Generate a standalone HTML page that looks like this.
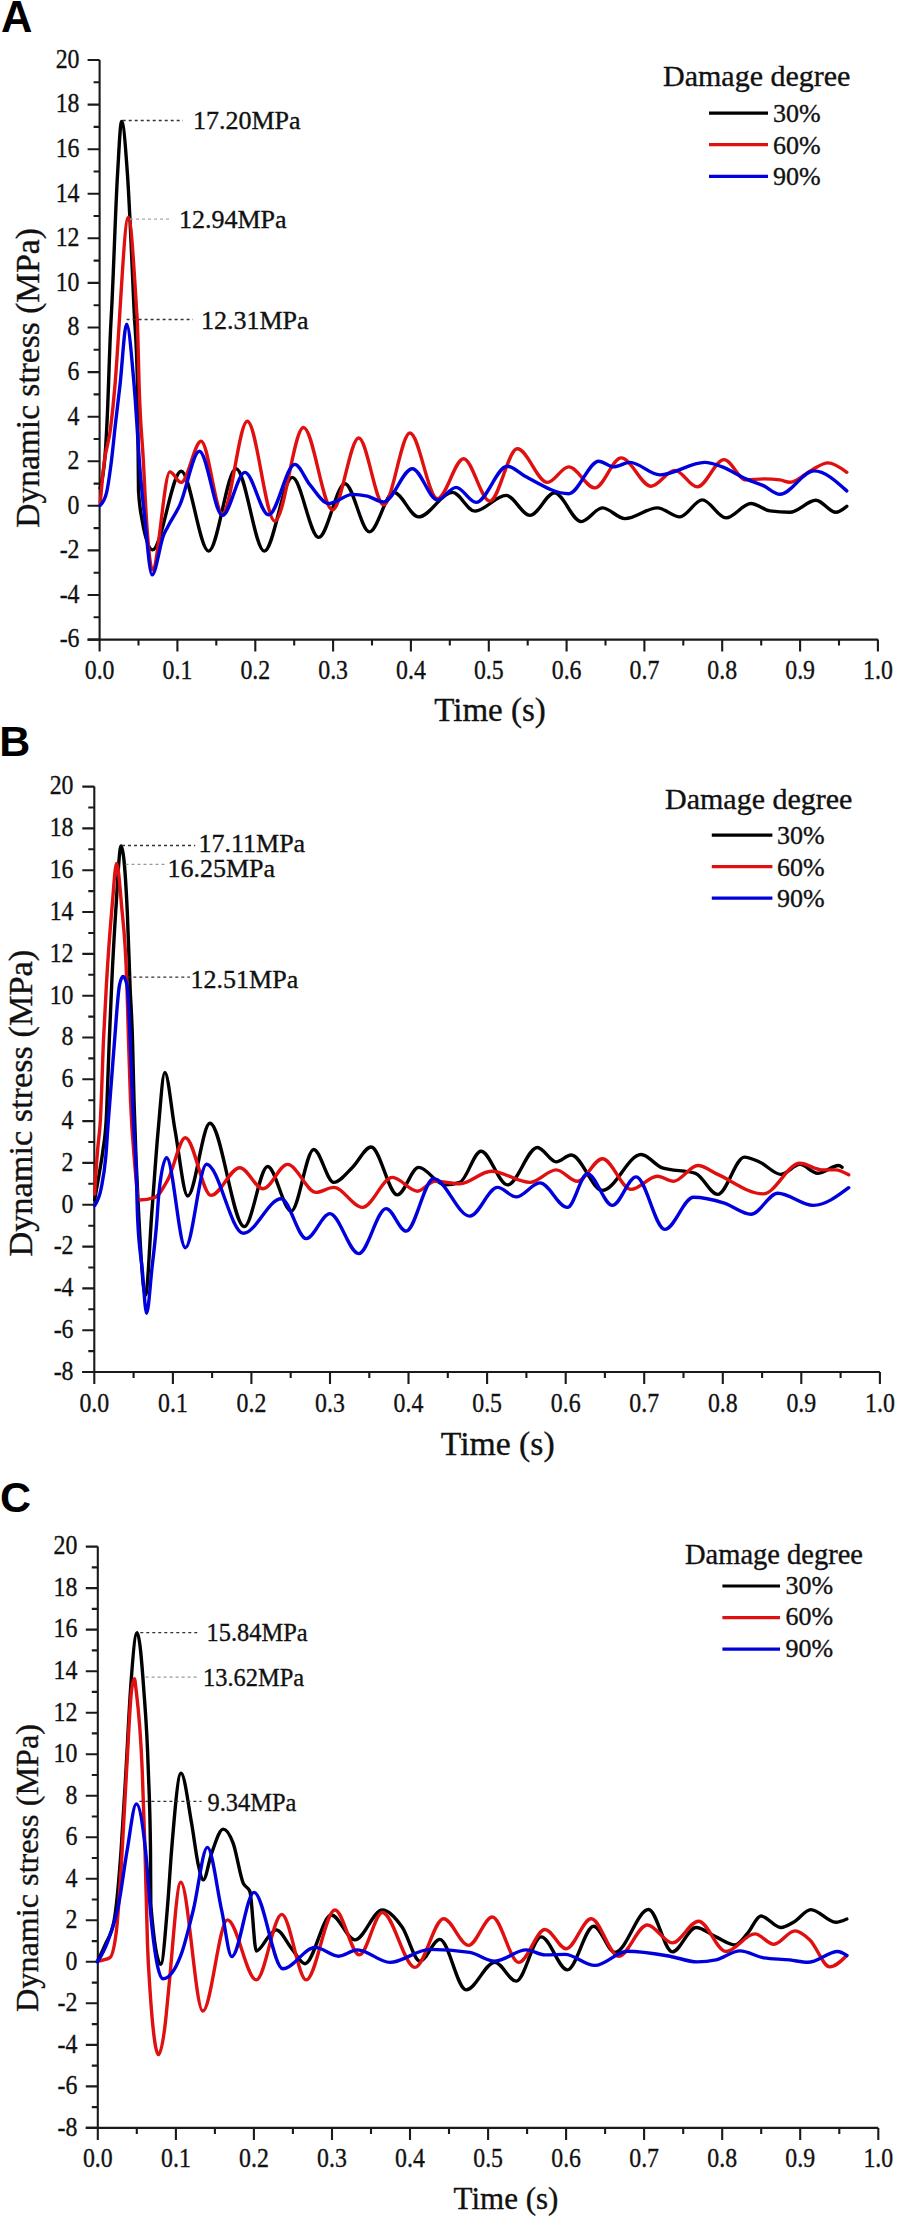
<!DOCTYPE html>
<html><head><meta charset="utf-8"><style>
html,body{margin:0;padding:0;background:#fff;}
svg{display:block;}
text{font-family:"Liberation Serif",serif;fill:#111;stroke:#111;stroke-width:0.35px;}
.let{font-family:"Liberation Sans",sans-serif;font-weight:bold;fill:#000;stroke:none;}
</style></head><body>
<svg width="901" height="2219" viewBox="0 0 901 2219">
<rect width="901" height="2219" fill="#fff"/>
<path d="M99.6,60.0 V639.6 M87.6,639.6 H877.9" fill="none" stroke="#1a1a1a" stroke-width="2.1"/>
<path d="M87.6,639.6 H99.6 M93.6,617.3 H99.6 M87.6,595.0 H99.6 M93.6,572.7 H99.6 M87.6,550.4 H99.6 M93.6,528.1 H99.6 M87.6,505.8 H99.6 M93.6,483.6 H99.6 M87.6,461.3 H99.6 M93.6,439.0 H99.6 M87.6,416.7 H99.6 M93.6,394.4 H99.6 M87.6,372.1 H99.6 M93.6,349.8 H99.6 M87.6,327.5 H99.6 M93.6,305.2 H99.6 M87.6,282.9 H99.6 M93.6,260.6 H99.6 M87.6,238.3 H99.6 M93.6,216.0 H99.6 M87.6,193.8 H99.6 M93.6,171.5 H99.6 M87.6,149.2 H99.6 M93.6,126.9 H99.6 M87.6,104.6 H99.6 M93.6,82.3 H99.6 M87.6,60.0 H99.6 M99.6,639.6 V651.6 M138.5,639.6 V645.6 M177.4,639.6 V651.6 M216.3,639.6 V645.6 M255.3,639.6 V651.6 M294.2,639.6 V645.6 M333.1,639.6 V651.6 M372.0,639.6 V645.6 M410.9,639.6 V651.6 M449.8,639.6 V645.6 M488.8,639.6 V651.6 M527.7,639.6 V645.6 M566.6,639.6 V651.6 M605.5,639.6 V645.6 M644.4,639.6 V651.6 M683.3,639.6 V645.6 M722.2,639.6 V651.6 M761.2,639.6 V645.6 M800.1,639.6 V651.6 M839.0,639.6 V645.6 M877.9,639.6 V651.6" fill="none" stroke="#1a1a1a" stroke-width="2.1"/>
<text transform="translate(79.5,647.4) scale(0.9,1)" text-anchor="end" font-size="26.5">-6</text>
<text transform="translate(79.5,602.8) scale(0.9,1)" text-anchor="end" font-size="26.5">-4</text>
<text transform="translate(79.5,558.2) scale(0.9,1)" text-anchor="end" font-size="26.5">-2</text>
<text transform="translate(79.5,513.6) scale(0.9,1)" text-anchor="end" font-size="26.5">0</text>
<text transform="translate(79.5,469.1) scale(0.9,1)" text-anchor="end" font-size="26.5">2</text>
<text transform="translate(79.5,424.5) scale(0.9,1)" text-anchor="end" font-size="26.5">4</text>
<text transform="translate(79.5,379.9) scale(0.9,1)" text-anchor="end" font-size="26.5">6</text>
<text transform="translate(79.5,335.3) scale(0.9,1)" text-anchor="end" font-size="26.5">8</text>
<text transform="translate(79.5,290.7) scale(0.9,1)" text-anchor="end" font-size="26.5">10</text>
<text transform="translate(79.5,246.1) scale(0.9,1)" text-anchor="end" font-size="26.5">12</text>
<text transform="translate(79.5,201.6) scale(0.9,1)" text-anchor="end" font-size="26.5">14</text>
<text transform="translate(79.5,157.0) scale(0.9,1)" text-anchor="end" font-size="26.5">16</text>
<text transform="translate(79.5,112.4) scale(0.9,1)" text-anchor="end" font-size="26.5">18</text>
<text transform="translate(79.5,67.8) scale(0.9,1)" text-anchor="end" font-size="26.5">20</text>
<text transform="translate(99.6,678.5) scale(0.9,1)" text-anchor="middle" font-size="26.5">0.0</text>
<text transform="translate(177.4,678.5) scale(0.9,1)" text-anchor="middle" font-size="26.5">0.1</text>
<text transform="translate(255.3,678.5) scale(0.9,1)" text-anchor="middle" font-size="26.5">0.2</text>
<text transform="translate(333.1,678.5) scale(0.9,1)" text-anchor="middle" font-size="26.5">0.3</text>
<text transform="translate(410.9,678.5) scale(0.9,1)" text-anchor="middle" font-size="26.5">0.4</text>
<text transform="translate(488.8,678.5) scale(0.9,1)" text-anchor="middle" font-size="26.5">0.5</text>
<text transform="translate(566.6,678.5) scale(0.9,1)" text-anchor="middle" font-size="26.5">0.6</text>
<text transform="translate(644.4,678.5) scale(0.9,1)" text-anchor="middle" font-size="26.5">0.7</text>
<text transform="translate(722.2,678.5) scale(0.9,1)" text-anchor="middle" font-size="26.5">0.8</text>
<text transform="translate(800.1,678.5) scale(0.9,1)" text-anchor="middle" font-size="26.5">0.9</text>
<text transform="translate(877.9,678.5) scale(0.9,1)" text-anchor="middle" font-size="26.5">1.0</text>
<text x="490.0" y="721.0" text-anchor="middle" font-size="33">Time (s)</text>
<text transform="translate(38.9,378.0) rotate(-90)" text-anchor="middle" font-size="33.5">Dynamic stress (MPa)</text>
<text x="1.0" y="32.2" class="let" font-size="43.5">A</text>
<text x="663.0" y="85.5" font-size="30">Damage degree</text>
<path d="M709.0,113.1 H768.0" stroke="#000" stroke-width="3.2"/>
<text x="773.0" y="122.1" font-size="26">30%</text>
<path d="M709.0,144.7 H768.0" stroke="#e01010" stroke-width="3.2"/>
<text x="773.0" y="153.7" font-size="26">60%</text>
<path d="M709.0,176.3 H768.0" stroke="#0000dd" stroke-width="3.2"/>
<text x="773.0" y="185.3" font-size="26">90%</text>
<path d="M100.0,488.0 C100.6,486.4 101.1,484.9 101.7,482.0 C103.0,475.2 104.4,468.0 105.7,446.6 C106.1,439.6 106.6,431.5 107.0,422.7 C108.3,397.0 109.5,350.3 110.8,325.0 C111.1,319.7 111.3,315.1 111.6,310.0 C113.6,272.2 115.5,208.6 117.5,175.0 C118.9,151.7 120.2,121.5 121.6,121.5 C123.6,121.5 125.5,146.6 127.5,175.0 C129.7,206.8 131.9,262.7 134.1,310.0 C135.2,334.4 136.4,335.0 137.5,385.0 C137.8,399.7 138.2,485.6 138.5,491.0 C139.7,510.3 140.9,513.0 142.1,520.0 C145.5,539.9 149.0,549.9 152.4,549.9 C162.0,549.9 171.6,471.2 181.2,471.2 C190.3,471.2 199.5,551.1 208.6,551.1 C217.8,551.1 226.9,468.7 236.1,468.7 C245.5,468.7 254.9,551.1 264.3,551.1 C273.6,551.1 283.0,477.4 292.3,477.4 C301.1,477.4 309.9,537.4 318.7,537.4 C327.5,537.4 336.2,483.7 345.0,483.7 C353.1,483.7 361.3,531.9 369.4,531.9 C377.5,531.9 385.6,492.4 393.7,492.4 C402.0,492.4 410.3,516.9 418.6,516.9 C429.9,516.9 441.1,492.4 452.4,492.4 C459.9,492.4 467.3,511.1 474.8,511.1 C485.2,511.1 495.7,495.4 506.1,495.4 C514.1,495.4 522.0,515.4 530.0,515.4 C538.2,515.4 546.3,492.9 554.5,492.9 C563.4,492.9 572.3,521.6 581.2,521.6 C588.3,521.6 595.3,507.9 602.4,507.9 C609.9,507.9 617.4,518.6 624.9,518.6 C635.7,518.6 646.6,507.9 657.4,507.9 C664.9,507.9 672.3,516.9 679.8,516.9 C687.3,516.9 694.8,499.9 702.3,499.9 C710.2,499.9 718.1,517.9 726.0,517.9 C734.3,517.9 742.6,503.5 750.9,503.5 C757.2,503.5 763.6,510.0 769.9,510.9 C776.6,511.8 783.2,512.3 789.9,512.3 C798.6,512.3 807.2,500.3 815.9,500.3 C822.5,500.3 829.2,512.3 835.8,512.3 C839.5,512.3 843.1,509.3 846.8,506.3" fill="none" stroke="#000" stroke-width="3.4" stroke-linejoin="round" stroke-linecap="round"/>
<path d="M100.3,502.6 C101.5,488.8 102.7,474.9 103.9,464.4 C106.1,445.1 108.3,446.5 110.5,428.9 C112.0,416.9 113.5,403.5 115.0,385.0 C116.4,368.2 117.7,347.3 119.1,325.0 C119.4,320.1 119.7,314.8 120.0,310.0 C122.8,265.4 125.5,217.5 128.3,217.5 C131.1,217.5 133.8,265.4 136.6,310.0 C136.9,314.8 137.2,317.7 137.5,325.0 C138.0,337.9 138.6,367.9 139.1,385.0 C140.5,429.9 141.9,434.3 143.3,460.0 C144.4,479.6 145.4,503.9 146.5,520.0 C148.5,549.7 150.4,569.8 152.4,569.8 C158.2,569.8 164.1,471.9 169.9,471.9 C173.7,471.9 177.4,482.4 181.2,482.4 C187.8,482.4 194.5,441.2 201.1,441.2 C208.2,441.2 215.3,513.6 222.4,513.6 C230.7,513.6 239.0,421.2 247.3,421.2 C256.5,421.2 265.6,521.1 274.8,521.1 C284.4,521.1 293.9,427.5 303.5,427.5 C313.2,427.5 322.8,509.9 332.5,509.9 C341.2,509.9 350.0,438.0 358.7,438.0 C367.0,438.0 375.4,504.9 383.7,504.9 C392.4,504.9 401.2,433.0 409.9,433.0 C419.1,433.0 428.2,498.7 437.4,498.7 C446.1,498.7 454.9,458.7 463.6,458.7 C472.3,458.7 481.1,501.1 489.8,501.1 C499.0,501.1 508.1,448.7 517.3,448.7 C527.4,448.7 537.4,482.4 547.5,482.4 C554.6,482.4 561.6,466.9 568.7,466.9 C577.4,466.9 586.2,487.9 594.9,487.9 C603.7,487.9 612.4,457.9 621.2,457.9 C631.2,457.9 641.1,486.2 651.1,486.2 C659.0,486.2 667.0,470.4 674.9,470.4 C682.4,470.4 689.8,486.9 697.3,486.9 C706.2,486.9 715.1,459.6 724.0,459.6 C731.3,459.6 738.6,479.9 745.9,479.9 C751.9,479.9 757.9,478.9 763.9,478.9 C769.2,478.9 774.6,479.2 779.9,479.9 C783.2,480.3 786.6,482.3 789.9,482.3 C797.2,482.3 804.6,473.5 811.9,469.9 C817.2,467.3 822.5,462.9 827.8,462.9 C834.1,462.9 840.5,467.6 846.8,472.3" fill="none" stroke="#e01010" stroke-width="3.4" stroke-linejoin="round" stroke-linecap="round"/>
<path d="M100.3,505.3 C102.4,503.2 104.4,501.1 106.5,492.8 C108.0,486.8 109.5,476.0 111.0,464.4 C112.5,453.1 113.9,437.4 115.4,424.4 C116.9,410.9 118.5,398.5 120.0,385.0 C122.2,365.6 124.4,324.2 126.6,324.2 C129.1,324.2 131.6,356.3 134.1,385.0 C136.2,408.7 138.2,448.9 140.3,473.3 C141.8,490.6 143.2,504.2 144.7,517.7 C147.1,540.2 149.6,574.8 152.0,574.8 C155.9,574.8 159.8,544.1 163.7,534.9 C164.9,532.0 166.2,529.8 167.4,527.4 C171.6,519.2 175.7,514.0 179.9,504.9 C186.4,490.8 192.9,451.2 199.4,451.2 C207.1,451.2 214.7,515.4 222.4,515.4 C229.9,515.4 237.4,472.4 244.9,472.4 C252.8,472.4 260.7,514.9 268.6,514.9 C277.3,514.9 286.1,464.4 294.8,464.4 C299.9,464.4 304.9,478.9 310.0,484.9 C316.2,492.3 322.5,503.6 328.7,503.6 C336.6,503.6 344.6,494.4 352.5,494.4 C357.5,494.4 362.4,495.1 367.4,496.2 C372.8,497.5 378.3,501.9 383.7,501.9 C393.3,501.9 402.8,468.7 412.4,468.7 C420.7,468.7 429.1,499.9 437.4,499.9 C443.6,499.9 449.9,487.4 456.1,487.4 C462.8,487.4 469.4,502.4 476.1,502.4 C486.5,502.4 496.9,466.2 507.3,466.2 C513.2,466.2 519.1,473.1 525.0,476.2 C539.6,483.7 554.1,493.7 568.7,493.7 C578.7,493.7 588.7,461.2 598.7,461.2 C603.7,461.2 608.7,466.9 613.7,466.9 C619.1,466.9 624.5,462.4 629.9,462.4 C639.9,462.4 649.9,474.9 659.9,474.9 C674.9,474.9 689.8,462.4 704.8,462.4 C710.6,462.4 716.5,464.8 722.3,466.9 C730.2,469.8 738.0,475.4 745.9,478.9 C751.9,481.5 757.9,483.1 763.9,485.9 C769.2,488.4 774.6,494.3 779.9,494.3 C791.2,494.3 802.6,470.9 813.9,470.9 C824.9,470.9 835.8,480.9 846.8,490.9" fill="none" stroke="#0000dd" stroke-width="3.4" stroke-linejoin="round" stroke-linecap="round"/>
<path d="M122.7,120.5 H183.0" stroke="#333" stroke-width="1.3" stroke-dasharray="3,3"/>
<text transform="translate(193.0,129.0) scale(1,1)" font-size="26">17.20MPa</text>
<path d="M130.0,219.1 H171.0" stroke="#aaa" stroke-width="1.3" stroke-dasharray="3,3"/>
<text transform="translate(179.0,228.3) scale(1,1)" font-size="26">12.94MPa</text>
<path d="M126.6,319.5 H193.0" stroke="#333" stroke-width="1.3" stroke-dasharray="3,3"/>
<text transform="translate(201.0,329.0) scale(1,1)" font-size="26">12.31MPa</text>
<path d="M94.3,786.6 V1372.0 M82.3,1372.0 H879.9" fill="none" stroke="#1a1a1a" stroke-width="2.1"/>
<path d="M82.3,1372.0 H94.3 M88.3,1351.1 H94.3 M82.3,1330.2 H94.3 M88.3,1309.3 H94.3 M82.3,1288.4 H94.3 M88.3,1267.5 H94.3 M82.3,1246.6 H94.3 M88.3,1225.7 H94.3 M82.3,1204.7 H94.3 M88.3,1183.8 H94.3 M82.3,1162.9 H94.3 M88.3,1142.0 H94.3 M82.3,1121.1 H94.3 M88.3,1100.2 H94.3 M82.3,1079.3 H94.3 M88.3,1058.4 H94.3 M82.3,1037.5 H94.3 M88.3,1016.6 H94.3 M82.3,995.7 H94.3 M88.3,974.8 H94.3 M82.3,953.9 H94.3 M88.3,933.0 H94.3 M82.3,912.0 H94.3 M88.3,891.1 H94.3 M82.3,870.2 H94.3 M88.3,849.3 H94.3 M82.3,828.4 H94.3 M88.3,807.5 H94.3 M82.3,786.6 H94.3 M94.3,1372.0 V1384.0 M133.6,1372.0 V1378.0 M172.9,1372.0 V1384.0 M212.1,1372.0 V1378.0 M251.4,1372.0 V1384.0 M290.7,1372.0 V1378.0 M330.0,1372.0 V1384.0 M369.3,1372.0 V1378.0 M408.5,1372.0 V1384.0 M447.8,1372.0 V1378.0 M487.1,1372.0 V1384.0 M526.4,1372.0 V1378.0 M565.7,1372.0 V1384.0 M604.9,1372.0 V1378.0 M644.2,1372.0 V1384.0 M683.5,1372.0 V1378.0 M722.8,1372.0 V1384.0 M762.1,1372.0 V1378.0 M801.3,1372.0 V1384.0 M840.6,1372.0 V1378.0 M879.9,1372.0 V1384.0" fill="none" stroke="#1a1a1a" stroke-width="2.1"/>
<text transform="translate(73.5,1379.8) scale(0.9,1)" text-anchor="end" font-size="26.5">-8</text>
<text transform="translate(73.5,1338.0) scale(0.9,1)" text-anchor="end" font-size="26.5">-6</text>
<text transform="translate(73.5,1296.2) scale(0.9,1)" text-anchor="end" font-size="26.5">-4</text>
<text transform="translate(73.5,1254.4) scale(0.9,1)" text-anchor="end" font-size="26.5">-2</text>
<text transform="translate(73.5,1212.5) scale(0.9,1)" text-anchor="end" font-size="26.5">0</text>
<text transform="translate(73.5,1170.7) scale(0.9,1)" text-anchor="end" font-size="26.5">2</text>
<text transform="translate(73.5,1128.9) scale(0.9,1)" text-anchor="end" font-size="26.5">4</text>
<text transform="translate(73.5,1087.1) scale(0.9,1)" text-anchor="end" font-size="26.5">6</text>
<text transform="translate(73.5,1045.3) scale(0.9,1)" text-anchor="end" font-size="26.5">8</text>
<text transform="translate(73.5,1003.5) scale(0.9,1)" text-anchor="end" font-size="26.5">10</text>
<text transform="translate(73.5,961.7) scale(0.9,1)" text-anchor="end" font-size="26.5">12</text>
<text transform="translate(73.5,919.8) scale(0.9,1)" text-anchor="end" font-size="26.5">14</text>
<text transform="translate(73.5,878.0) scale(0.9,1)" text-anchor="end" font-size="26.5">16</text>
<text transform="translate(73.5,836.2) scale(0.9,1)" text-anchor="end" font-size="26.5">18</text>
<text transform="translate(73.5,794.4) scale(0.9,1)" text-anchor="end" font-size="26.5">20</text>
<text transform="translate(94.3,1412.0) scale(0.9,1)" text-anchor="middle" font-size="26.5">0.0</text>
<text transform="translate(172.9,1412.0) scale(0.9,1)" text-anchor="middle" font-size="26.5">0.1</text>
<text transform="translate(251.4,1412.0) scale(0.9,1)" text-anchor="middle" font-size="26.5">0.2</text>
<text transform="translate(330.0,1412.0) scale(0.9,1)" text-anchor="middle" font-size="26.5">0.3</text>
<text transform="translate(408.5,1412.0) scale(0.9,1)" text-anchor="middle" font-size="26.5">0.4</text>
<text transform="translate(487.1,1412.0) scale(0.9,1)" text-anchor="middle" font-size="26.5">0.5</text>
<text transform="translate(565.7,1412.0) scale(0.9,1)" text-anchor="middle" font-size="26.5">0.6</text>
<text transform="translate(644.2,1412.0) scale(0.9,1)" text-anchor="middle" font-size="26.5">0.7</text>
<text transform="translate(722.8,1412.0) scale(0.9,1)" text-anchor="middle" font-size="26.5">0.8</text>
<text transform="translate(801.3,1412.0) scale(0.9,1)" text-anchor="middle" font-size="26.5">0.9</text>
<text transform="translate(879.9,1412.0) scale(0.9,1)" text-anchor="middle" font-size="26.5">1.0</text>
<text x="497.7" y="1455.4" text-anchor="middle" font-size="33.7">Time (s)</text>
<text transform="translate(32.3,1103.2) rotate(-90)" text-anchor="middle" font-size="34.3">Dynamic stress (MPa)</text>
<text x="-0.8" y="756.2" class="let" font-size="43">B</text>
<text x="665.0" y="808.9" font-size="30">Damage degree</text>
<path d="M711.8,835.1 H772.4" stroke="#000" stroke-width="3.2"/>
<text x="777.0" y="844.1" font-size="26">30%</text>
<path d="M711.8,866.6 H772.4" stroke="#e01010" stroke-width="3.2"/>
<text x="777.0" y="875.6" font-size="26">60%</text>
<path d="M711.8,898.1 H772.4" stroke="#0000dd" stroke-width="3.2"/>
<text x="777.0" y="907.1" font-size="26">90%</text>
<path d="M94.6,1200.0 C96.1,1191.9 97.5,1183.8 99.0,1175.0 C100.3,1167.0 101.7,1160.6 103.0,1150.0 C104.1,1141.5 105.1,1138.9 106.2,1120.0 C107.2,1101.7 108.3,1065.2 109.3,1040.0 C110.1,1019.7 111.0,999.7 111.8,982.0 C113.1,953.7 114.5,930.6 115.8,910.0 C117.6,882.7 119.3,846.0 121.1,846.0 C123.2,846.0 125.2,868.0 127.3,912.0 C128.2,931.2 129.1,963.0 130.0,985.0 C130.8,1005.4 131.7,1012.3 132.5,1040.0 C133.0,1056.6 133.5,1081.8 134.0,1100.0 C135.7,1160.5 137.3,1189.0 139.0,1220.0 C141.2,1260.3 143.3,1295.4 145.5,1295.4 C147.7,1295.4 149.8,1238.2 152.0,1210.0 C154.1,1183.1 156.1,1152.5 158.2,1130.0 C160.4,1106.1 162.6,1072.5 164.8,1072.5 C168.2,1072.5 171.6,1111.5 175.0,1130.0 C179.2,1153.0 183.5,1196.0 187.7,1196.0 C195.1,1196.0 202.5,1123.3 209.9,1123.3 C221.4,1123.3 232.8,1226.6 244.3,1226.6 C252.1,1226.6 259.8,1166.5 267.6,1166.5 C275.5,1166.5 283.3,1211.1 291.2,1211.1 C298.7,1211.1 306.2,1149.5 313.7,1149.5 C320.4,1149.5 327.0,1182.4 333.7,1182.4 C339.9,1182.4 346.2,1173.3 352.4,1167.4 C358.6,1161.5 364.9,1147.0 371.1,1147.0 C379.9,1147.0 388.6,1194.9 397.4,1194.9 C404.5,1194.9 411.5,1167.4 418.6,1167.4 C427.3,1167.4 436.1,1184.9 444.8,1184.9 C449.8,1184.9 454.8,1184.1 459.8,1182.4 C466.9,1180.0 473.9,1151.2 481.0,1151.2 C489.8,1151.2 498.7,1184.9 507.5,1184.9 C517.5,1184.9 527.4,1147.5 537.4,1147.5 C543.7,1147.5 549.9,1161.9 556.2,1161.9 C561.2,1161.9 566.2,1155.0 571.2,1155.0 C581.6,1155.0 592.0,1190.4 602.4,1190.4 C615.3,1190.4 628.2,1154.5 641.1,1154.5 C648.2,1154.5 655.2,1165.6 662.3,1167.9 C673.4,1171.5 684.4,1169.7 695.5,1173.3 C702.9,1175.7 710.3,1194.4 717.7,1194.4 C726.6,1194.4 735.5,1157.1 744.4,1157.1 C749.6,1157.1 754.7,1160.0 759.9,1162.2 C766.9,1165.3 774.0,1174.4 781.0,1174.4 C787.3,1174.4 793.6,1164.4 799.9,1164.4 C805.8,1164.4 811.7,1173.3 817.6,1173.3 C824.6,1173.3 831.7,1165.5 838.7,1165.5 C839.8,1165.5 840.9,1166.4 842.0,1167.3" fill="none" stroke="#000" stroke-width="3.4" stroke-linejoin="round" stroke-linecap="round"/>
<path d="M94.7,1194.0 C95.1,1187.2 95.4,1180.3 95.8,1174.4 C96.5,1163.6 97.1,1155.9 97.8,1147.8 C98.7,1137.3 99.5,1135.2 100.4,1120.0 C101.4,1101.8 102.5,1063.0 103.5,1040.0 C104.5,1018.5 105.4,1001.7 106.4,985.0 C108.3,951.7 110.3,926.9 112.2,905.0 C113.7,888.4 115.1,863.5 116.6,863.5 C118.2,863.5 119.9,886.2 121.5,905.0 C123.3,925.7 125.1,931.7 126.9,985.0 C127.4,1000.8 128.0,1022.7 128.5,1040.0 C129.2,1061.6 129.8,1083.3 130.5,1100.0 C131.8,1132.6 133.1,1144.2 134.4,1160.0 C136.1,1180.6 137.8,1200.0 139.5,1200.0 C144.5,1200.0 149.5,1199.2 154.5,1197.5 C159.0,1196.0 163.4,1187.7 167.9,1179.7 C173.7,1169.2 179.6,1137.7 185.4,1137.7 C193.9,1137.7 202.5,1195.4 211.0,1195.4 C220.6,1195.4 230.2,1167.7 239.8,1167.7 C247.6,1167.7 255.3,1188.8 263.1,1188.8 C271.2,1188.8 279.4,1164.4 287.5,1164.4 C297.1,1164.4 306.6,1192.4 316.2,1192.4 C322.0,1192.4 327.9,1187.4 333.7,1187.4 C343.3,1187.4 352.8,1207.4 362.4,1207.4 C372.4,1207.4 382.4,1177.4 392.4,1177.4 C400.7,1177.4 409.1,1191.2 417.4,1191.2 C423.2,1191.2 429.0,1181.2 434.8,1181.2 C443.1,1181.2 451.5,1183.7 459.8,1183.7 C470.3,1183.7 480.7,1171.2 491.2,1171.2 C504.1,1171.2 517.1,1182.4 530.0,1182.4 C538.7,1182.4 547.5,1169.9 556.2,1169.9 C563.3,1169.9 570.3,1181.2 577.4,1181.2 C585.7,1181.2 594.1,1158.7 602.4,1158.7 C612.0,1158.7 621.5,1189.4 631.1,1189.4 C639.8,1189.4 648.6,1176.2 657.3,1176.2 C662.7,1176.2 668.2,1181.2 673.6,1181.2 C681.7,1181.2 689.7,1165.5 697.8,1165.5 C704.4,1165.5 711.1,1171.5 717.7,1174.4 C732.9,1181.1 748.0,1193.9 763.2,1193.9 C775.4,1193.9 787.7,1163.3 799.9,1163.3 C807.3,1163.3 814.7,1169.9 822.1,1169.9 C826.5,1169.9 831.0,1169.9 835.4,1169.9 C839.8,1169.9 844.3,1172.3 848.7,1174.8" fill="none" stroke="#e01010" stroke-width="3.4" stroke-linejoin="round" stroke-linecap="round"/>
<path d="M94.7,1205.5 C96.9,1202.3 99.1,1199.1 101.3,1187.7 C102.8,1179.9 104.3,1173.8 105.8,1156.6 C106.7,1146.7 107.5,1131.9 108.4,1120.0 C110.5,1091.6 112.5,1064.7 114.6,1040.0 C116.2,1020.5 117.9,992.9 119.5,985.0 C120.7,979.3 121.8,976.5 123.0,976.5 C124.3,976.5 125.7,979.3 127.0,985.0 C128.1,989.5 129.1,1017.0 130.2,1040.0 C131.2,1062.3 132.3,1098.3 133.3,1120.0 C134.2,1138.9 135.1,1141.9 136.0,1165.5 C136.6,1180.3 137.1,1207.7 137.7,1220.0 C139.2,1252.5 140.7,1253.1 142.2,1268.8 C143.7,1284.1 145.1,1313.2 146.6,1313.2 C148.4,1313.2 150.2,1284.2 152.0,1268.0 C153.5,1254.2 155.1,1242.5 156.6,1224.0 C157.4,1214.4 158.2,1199.2 159.0,1192.0 C161.5,1169.1 164.1,1157.7 166.6,1157.7 C172.9,1157.7 179.1,1247.7 185.4,1247.7 C192.4,1247.7 199.5,1164.3 206.5,1164.3 C218.7,1164.3 231.0,1233.3 243.2,1233.3 C255.9,1233.3 268.5,1198.7 281.2,1198.7 C289.5,1198.7 297.9,1238.6 306.2,1238.6 C314.1,1238.6 322.0,1213.6 329.9,1213.6 C339.5,1213.6 349.1,1253.6 358.7,1253.6 C367.8,1253.6 377.0,1208.6 386.1,1208.6 C392.8,1208.6 399.4,1231.1 406.1,1231.1 C415.3,1231.1 424.4,1178.7 433.6,1178.7 C445.7,1178.7 457.7,1216.1 469.8,1216.1 C479.0,1216.1 488.3,1187.4 497.5,1187.4 C503.7,1187.4 510.0,1196.9 516.2,1196.9 C524.1,1196.9 532.0,1182.9 539.9,1182.9 C549.1,1182.9 558.2,1207.4 567.4,1207.4 C574.1,1207.4 580.7,1173.7 587.4,1173.7 C595.7,1173.7 604.1,1205.4 612.4,1205.4 C620.3,1205.4 628.2,1176.9 636.1,1176.9 C645.7,1176.9 655.2,1229.4 664.8,1229.4 C674.3,1229.4 683.9,1197.3 693.4,1197.3 C703.7,1197.3 714.1,1200.0 724.4,1203.2 C733.3,1206.0 742.1,1214.3 751.0,1214.3 C759.9,1214.3 768.8,1193.2 777.7,1193.2 C789.5,1193.2 801.4,1205.4 813.2,1205.4 C825.0,1205.4 836.9,1196.6 848.7,1187.7" fill="none" stroke="#0000dd" stroke-width="3.4" stroke-linejoin="round" stroke-linecap="round"/>
<path d="M122.0,845.5 H195.2" stroke="#333" stroke-width="1.3" stroke-dasharray="3,3"/>
<text transform="translate(198.5,852.0) scale(1,1)" font-size="26">17.11MPa</text>
<path d="M125.5,864.3 H167.3" stroke="#999" stroke-width="1.3" stroke-dasharray="3,3"/>
<text transform="translate(167.5,877.3) scale(1,1)" font-size="26">16.25MPa</text>
<path d="M127.3,977.2 H189.9" stroke="#333" stroke-width="1.3" stroke-dasharray="3,3"/>
<text transform="translate(190.6,987.8) scale(1,1)" font-size="26">12.51MPa</text>
<path d="M97.8,1546.6 V2127.9 M85.8,2127.9 H878.3" fill="none" stroke="#1a1a1a" stroke-width="2.1"/>
<path d="M85.8,2127.9 H97.8 M91.8,2107.1 H97.8 M85.8,2086.4 H97.8 M91.8,2065.6 H97.8 M85.8,2044.9 H97.8 M91.8,2024.1 H97.8 M85.8,2003.3 H97.8 M91.8,1982.6 H97.8 M85.8,1961.8 H97.8 M91.8,1941.1 H97.8 M85.8,1920.3 H97.8 M91.8,1899.5 H97.8 M85.8,1878.8 H97.8 M91.8,1858.0 H97.8 M85.8,1837.2 H97.8 M91.8,1816.5 H97.8 M85.8,1795.7 H97.8 M91.8,1775.0 H97.8 M85.8,1754.2 H97.8 M91.8,1733.4 H97.8 M85.8,1712.7 H97.8 M91.8,1691.9 H97.8 M85.8,1671.2 H97.8 M91.8,1650.4 H97.8 M85.8,1629.6 H97.8 M91.8,1608.9 H97.8 M85.8,1588.1 H97.8 M91.8,1567.4 H97.8 M85.8,1546.6 H97.8 M97.8,2127.9 V2139.9 M136.8,2127.9 V2133.9 M175.9,2127.9 V2139.9 M214.9,2127.9 V2133.9 M253.9,2127.9 V2139.9 M292.9,2127.9 V2133.9 M332.0,2127.9 V2139.9 M371.0,2127.9 V2133.9 M410.0,2127.9 V2139.9 M449.0,2127.9 V2133.9 M488.1,2127.9 V2139.9 M527.1,2127.9 V2133.9 M566.1,2127.9 V2139.9 M605.1,2127.9 V2133.9 M644.1,2127.9 V2139.9 M683.2,2127.9 V2133.9 M722.2,2127.9 V2139.9 M761.2,2127.9 V2133.9 M800.2,2127.9 V2139.9 M839.3,2127.9 V2133.9 M878.3,2127.9 V2139.9" fill="none" stroke="#1a1a1a" stroke-width="2.1"/>
<text transform="translate(77.3,2135.7) scale(0.9,1)" text-anchor="end" font-size="26.5">-8</text>
<text transform="translate(77.3,2094.2) scale(0.9,1)" text-anchor="end" font-size="26.5">-6</text>
<text transform="translate(77.3,2052.7) scale(0.9,1)" text-anchor="end" font-size="26.5">-4</text>
<text transform="translate(77.3,2011.1) scale(0.9,1)" text-anchor="end" font-size="26.5">-2</text>
<text transform="translate(77.3,1969.6) scale(0.9,1)" text-anchor="end" font-size="26.5">0</text>
<text transform="translate(77.3,1928.1) scale(0.9,1)" text-anchor="end" font-size="26.5">2</text>
<text transform="translate(77.3,1886.6) scale(0.9,1)" text-anchor="end" font-size="26.5">4</text>
<text transform="translate(77.3,1845.0) scale(0.9,1)" text-anchor="end" font-size="26.5">6</text>
<text transform="translate(77.3,1803.5) scale(0.9,1)" text-anchor="end" font-size="26.5">8</text>
<text transform="translate(77.3,1762.0) scale(0.9,1)" text-anchor="end" font-size="26.5">10</text>
<text transform="translate(77.3,1720.5) scale(0.9,1)" text-anchor="end" font-size="26.5">12</text>
<text transform="translate(77.3,1679.0) scale(0.9,1)" text-anchor="end" font-size="26.5">14</text>
<text transform="translate(77.3,1637.4) scale(0.9,1)" text-anchor="end" font-size="26.5">16</text>
<text transform="translate(77.3,1595.9) scale(0.9,1)" text-anchor="end" font-size="26.5">18</text>
<text transform="translate(77.3,1554.4) scale(0.9,1)" text-anchor="end" font-size="26.5">20</text>
<text transform="translate(97.8,2166.5) scale(0.9,1)" text-anchor="middle" font-size="26.5">0.0</text>
<text transform="translate(175.9,2166.5) scale(0.9,1)" text-anchor="middle" font-size="26.5">0.1</text>
<text transform="translate(253.9,2166.5) scale(0.9,1)" text-anchor="middle" font-size="26.5">0.2</text>
<text transform="translate(331.9,2166.5) scale(0.9,1)" text-anchor="middle" font-size="26.5">0.3</text>
<text transform="translate(410.0,2166.5) scale(0.9,1)" text-anchor="middle" font-size="26.5">0.4</text>
<text transform="translate(488.1,2166.5) scale(0.9,1)" text-anchor="middle" font-size="26.5">0.5</text>
<text transform="translate(566.1,2166.5) scale(0.9,1)" text-anchor="middle" font-size="26.5">0.6</text>
<text transform="translate(644.1,2166.5) scale(0.9,1)" text-anchor="middle" font-size="26.5">0.7</text>
<text transform="translate(722.2,2166.5) scale(0.9,1)" text-anchor="middle" font-size="26.5">0.8</text>
<text transform="translate(800.2,2166.5) scale(0.9,1)" text-anchor="middle" font-size="26.5">0.9</text>
<text transform="translate(878.3,2166.5) scale(0.9,1)" text-anchor="middle" font-size="26.5">1.0</text>
<text x="506.0" y="2208.8" text-anchor="middle" font-size="31">Time (s)</text>
<text transform="translate(37.5,1868.0) rotate(-90)" text-anchor="middle" font-size="32.2">Dynamic stress (MPa)</text>
<text x="0.0" y="1512.0" class="let" font-size="43">C</text>
<text x="685.0" y="1563.8" font-size="28.5">Damage degree</text>
<path d="M722.4,1586.0 H780.0" stroke="#000" stroke-width="3.2"/>
<text x="785.5" y="1593.8" font-size="26">30%</text>
<path d="M722.4,1617.6 H780.0" stroke="#e01010" stroke-width="3.2"/>
<text x="785.5" y="1625.4" font-size="26">60%</text>
<path d="M722.4,1649.2 H780.0" stroke="#0000dd" stroke-width="3.2"/>
<text x="785.5" y="1657.0" font-size="26">90%</text>
<path d="M97.5,1961.0 C100.1,1955.8 102.7,1950.7 105.3,1944.4 C108.3,1937.2 111.2,1936.3 114.2,1920.0 C116.5,1907.4 118.8,1881.6 121.1,1850.0 C122.7,1827.5 124.4,1797.9 126.0,1770.0 C127.5,1744.4 129.0,1711.1 130.5,1690.0 C132.7,1659.0 134.9,1632.6 137.1,1632.6 C139.3,1632.6 141.6,1658.6 143.8,1690.0 C145.3,1711.1 146.8,1724.6 148.3,1770.0 C149.0,1792.2 149.8,1796.7 150.5,1850.0 C150.6,1857.3 150.7,1903.2 150.8,1904.4 C154.1,1944.3 157.5,1964.3 160.8,1964.3 C163.0,1964.3 165.3,1932.9 167.5,1906.5 C168.9,1890.3 170.2,1866.5 171.6,1850.0 C174.7,1812.2 177.9,1773.3 181.0,1773.3 C184.5,1773.3 188.1,1803.4 191.6,1823.3 C193.8,1835.9 196.1,1855.1 198.3,1864.9 C200.0,1872.2 201.6,1879.9 203.3,1879.9 C206.1,1879.9 208.8,1860.9 211.6,1853.3 C215.5,1842.7 219.3,1829.1 223.2,1829.1 C226.5,1829.1 229.9,1834.3 233.2,1843.3 C236.5,1852.3 239.9,1875.4 243.2,1883.2 C245.4,1888.4 247.7,1886.0 249.9,1891.5 C252.0,1896.8 254.2,1951.0 256.3,1951.0 C260.7,1951.0 265.2,1939.7 269.6,1935.5 C271.8,1933.4 274.0,1929.9 276.2,1929.9 C281.4,1929.9 286.6,1942.7 291.8,1948.8 C296.2,1953.9 300.6,1963.7 305.0,1963.7 C313.7,1963.7 322.5,1915.0 331.2,1915.0 C339.1,1915.0 347.0,1939.9 354.9,1939.9 C364.1,1939.9 373.2,1910.0 382.4,1910.0 C389.1,1910.0 395.7,1917.9 402.4,1927.5 C408.2,1935.9 414.1,1961.2 419.9,1961.2 C426.5,1961.2 433.2,1939.4 439.8,1939.4 C448.6,1939.4 457.3,1989.9 466.1,1989.9 C475.7,1989.9 485.2,1962.4 494.8,1962.4 C501.9,1962.4 509.1,1981.1 516.2,1981.1 C524.5,1981.1 532.9,1936.9 541.2,1936.9 C549.9,1936.9 558.7,1969.9 567.4,1969.9 C576.2,1969.9 584.9,1926.2 593.7,1926.2 C600.8,1926.2 607.8,1952.4 614.9,1952.4 C626.1,1952.4 637.4,1909.5 648.6,1909.5 C656.5,1909.5 664.4,1951.9 672.3,1951.9 C680.2,1951.9 688.1,1927.5 696.0,1927.5 C702.7,1927.5 709.3,1933.9 716.0,1936.9 C722.3,1939.7 728.7,1944.9 735.0,1944.9 C739.3,1944.9 743.6,1937.7 747.9,1932.9 C752.2,1928.1 756.6,1916.0 760.9,1916.0 C767.6,1916.0 774.2,1927.5 780.9,1927.5 C785.2,1927.5 789.6,1924.4 793.9,1922.0 C799.6,1918.9 805.2,1909.6 810.9,1909.6 C819.2,1909.6 827.5,1922.3 835.8,1922.3 C839.5,1922.3 843.1,1920.7 846.8,1919.0" fill="none" stroke="#000" stroke-width="3.4" stroke-linejoin="round" stroke-linecap="round"/>
<path d="M97.5,1961.0 C101.6,1960.5 105.7,1959.9 109.8,1957.7 C112.0,1956.5 114.2,1948.8 116.4,1931.0 C118.3,1915.4 120.3,1881.6 122.2,1850.0 C123.7,1826.0 125.1,1795.2 126.6,1770.0 C128.3,1741.4 129.9,1703.5 131.6,1690.0 C132.5,1682.5 133.5,1678.7 134.4,1678.7 C135.0,1678.7 135.5,1685.4 136.1,1690.0 C138.1,1706.4 140.2,1721.8 142.2,1770.0 C143.1,1792.1 144.1,1818.8 145.0,1850.0 C145.8,1877.9 146.7,1921.1 147.5,1944.4 C148.3,1967.7 149.2,1977.1 150.0,1990.0 C150.7,2000.3 151.3,2008.9 152.0,2016.6 C154.2,2041.9 156.4,2054.6 158.6,2054.6 C160.8,2054.6 163.1,2041.8 165.3,2023.3 C166.4,2014.2 167.5,2000.8 168.6,1990.0 C172.7,1950.1 176.7,1882.3 180.8,1882.3 C188.1,1882.3 195.5,2011.0 202.8,2011.0 C211.0,2011.0 219.2,1919.9 227.4,1919.9 C237.0,1919.9 246.7,1979.9 256.3,1979.9 C264.8,1979.9 273.3,1914.4 281.8,1914.4 C289.9,1914.4 298.1,1979.9 306.2,1979.9 C315.8,1979.9 325.3,1910.0 334.9,1910.0 C343.1,1910.0 351.2,1954.9 359.4,1954.9 C367.1,1954.9 374.7,1912.5 382.4,1912.5 C393.2,1912.5 404.1,1967.4 414.9,1967.4 C424.5,1967.4 434.0,1918.7 443.6,1918.7 C451.9,1918.7 460.3,1945.4 468.6,1945.4 C476.5,1945.4 484.4,1917.0 492.3,1917.0 C501.1,1917.0 509.9,1962.4 518.7,1962.4 C527.5,1962.4 536.2,1929.5 545.0,1929.5 C552.1,1929.5 559.1,1948.7 566.2,1948.7 C574.5,1948.7 582.9,1918.7 591.2,1918.7 C600.3,1918.7 609.5,1956.2 618.6,1956.2 C628.2,1956.2 637.7,1925.0 647.3,1925.0 C655.6,1925.0 664.0,1942.9 672.3,1942.9 C681.0,1942.9 689.8,1921.2 698.5,1921.2 C707.7,1921.2 716.8,1951.5 726.0,1951.5 C735.6,1951.5 745.3,1933.9 754.9,1933.9 C761.2,1933.9 767.6,1944.3 773.9,1944.3 C780.9,1944.3 787.9,1930.9 794.9,1930.9 C799.9,1930.9 804.9,1935.3 809.9,1939.9 C816.5,1946.0 823.2,1966.9 829.8,1966.9 C835.5,1966.9 841.1,1961.2 846.8,1955.5" fill="none" stroke="#e01010" stroke-width="3.4" stroke-linejoin="round" stroke-linecap="round"/>
<path d="M97.5,1962.1 C100.8,1956.5 104.2,1951.0 107.5,1942.1 C111.2,1932.3 114.9,1923.1 118.6,1904.4 C121.5,1889.9 124.3,1866.4 127.2,1850.0 C130.2,1832.7 133.3,1803.9 136.3,1803.9 C139.4,1803.9 142.4,1822.0 145.5,1850.0 C147.6,1869.4 149.8,1906.7 151.9,1926.6 C155.6,1961.1 159.3,1978.8 163.0,1978.8 C168.9,1978.8 174.9,1971.0 180.8,1955.4 C185.0,1944.4 189.1,1926.7 193.3,1910.0 C198.0,1891.1 202.7,1847.4 207.4,1847.4 C212.1,1847.4 216.9,1888.7 221.6,1910.0 C225.0,1925.3 228.4,1956.6 231.8,1956.6 C239.2,1956.6 246.6,1892.4 254.0,1892.4 C263.6,1892.4 273.3,1968.8 282.9,1968.8 C293.6,1968.8 304.3,1947.4 315.0,1947.4 C322.9,1947.4 330.8,1956.2 338.7,1956.2 C344.9,1956.2 351.2,1949.9 357.4,1949.9 C368.2,1949.9 379.1,1962.4 389.9,1962.4 C403.2,1962.4 416.6,1949.4 429.9,1949.4 C443.2,1949.4 456.5,1950.4 469.8,1952.4 C478.1,1953.7 486.5,1961.2 494.8,1961.2 C505.3,1961.2 515.7,1949.9 526.2,1949.9 C532.5,1949.9 538.7,1954.9 545.0,1954.9 C551.6,1954.9 558.3,1954.4 564.9,1954.4 C574.9,1954.4 584.9,1965.4 594.9,1965.4 C605.7,1965.4 616.6,1951.2 627.4,1951.2 C641.5,1951.2 655.7,1953.8 669.8,1956.2 C679.0,1957.8 688.1,1961.9 697.3,1961.9 C703.5,1961.9 709.8,1961.2 716.0,1959.9 C724.0,1958.2 732.0,1950.9 740.0,1950.9 C748.0,1950.9 755.9,1956.7 763.9,1957.9 C772.6,1959.2 781.2,1958.9 789.9,1959.9 C795.9,1960.6 801.9,1962.3 807.9,1962.3 C817.9,1962.3 827.8,1951.5 837.8,1951.5 C840.8,1951.5 843.8,1953.5 846.8,1955.5" fill="none" stroke="#0000dd" stroke-width="3.4" stroke-linejoin="round" stroke-linecap="round"/>
<path d="M140.3,1632.6 H200.2" stroke="#333" stroke-width="1.3" stroke-dasharray="3,3"/>
<text transform="translate(206.5,1640.6) scale(0.94,1)" font-size="26">15.84MPa</text>
<path d="M145.6,1677.1 H197.6" stroke="#999" stroke-width="1.3" stroke-dasharray="3,3"/>
<text transform="translate(203.0,1685.9) scale(0.94,1)" font-size="26">13.62MPa</text>
<path d="M139.4,1801.4 H201.6" stroke="#333" stroke-width="1.3" stroke-dasharray="3,3"/>
<text transform="translate(207.5,1810.6) scale(0.94,1)" font-size="26">9.34MPa</text>
</svg></body></html>
